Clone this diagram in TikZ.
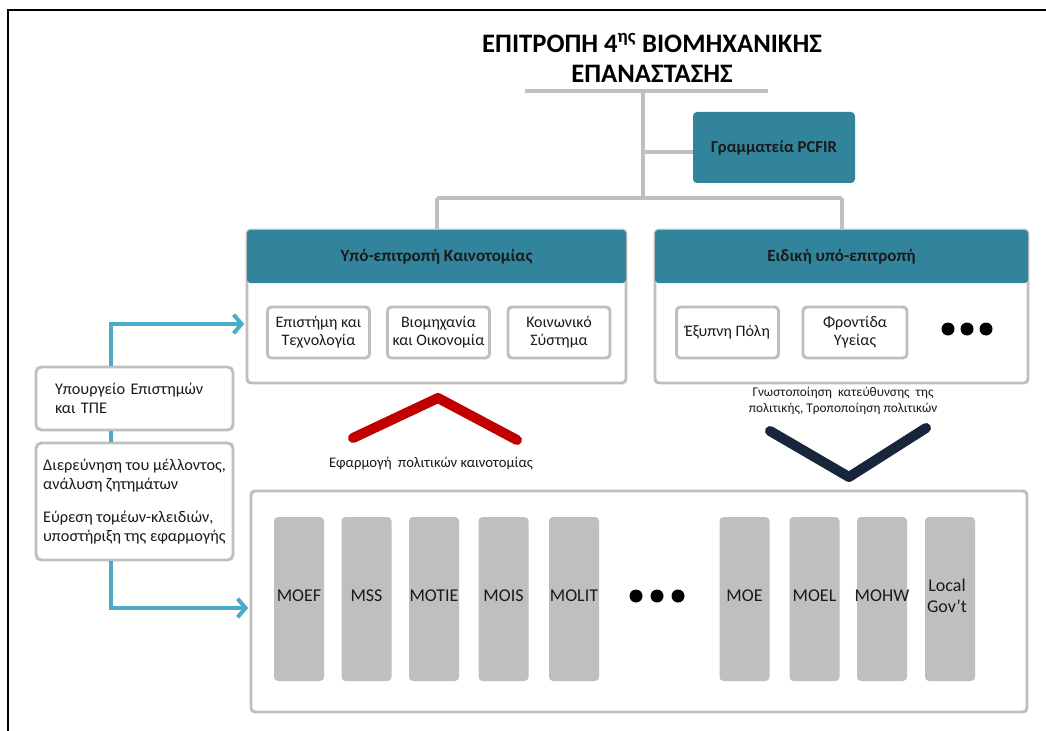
\documentclass[tikz,border=0pt]{standalone}
\usepackage{fontspec}
\setmainfont{Carlito}
\usetikzlibrary{arrows.meta}
\definecolor{tealh}{HTML}{31849B}
\definecolor{lgray}{HTML}{BFBFBF}
\definecolor{bline}{HTML}{4BACC6}
\definecolor{redc}{HTML}{C00000}
\definecolor{navyc}{HTML}{17263A}
\definecolor{txt}{HTML}{1A1A1A}
\begin{document}
\begin{tikzpicture}[x=0.75pt,y=-0.75pt,
  conn/.style={lgray,line width=3pt},
  panel/.style={draw=lgray,line width=2.2pt,fill=white,rounded corners=3pt,inner sep=0pt},
  header/.style={fill=tealh,rounded corners=2.5pt,text=txt,font=\bfseries\fontsize{12.8}{15}\selectfont,inner sep=0pt},
  ibox/.style={draw=lgray,line width=2.2pt,fill=white,rounded corners=3pt,minimum height=51*0.75pt,minimum width=102*0.75pt,align=center,text=txt,font=\fontsize{12}{13.5}\selectfont,inner sep=0pt},
  bar/.style={fill=lgray,rounded corners=3pt,minimum width=50*0.75pt,minimum height=164*0.75pt,inner sep=0pt},
  barlab/.style={text=txt,font=\fontsize{13.5}{16}\selectfont,inner sep=0pt,align=center},
  barrow/.style={bline,line width=3.6pt,-{Straight Barb[length=6pt,width=14pt,line width=3pt]}},
  sidebox/.style={draw=lgray,line width=2.2pt,fill=white,rounded corners=4pt,minimum width=197*0.75pt,align=left,text=txt,font=\fontsize{12.2}{14.2}\selectfont},
  dot/.style={circle,fill=black,inner sep=0pt,minimum size=13*0.75pt},
  chev/.style={line width=7.5pt,line cap=round,line join=round}
]
\useasboundingbox (0,0) rectangle (1046,731);
\fill[white] (0,0) rectangle (1046,731);
% frame
\draw[black,line width=0.9pt] (8,731) -- (8,10) -- (1046,10);

% title
\node[font=\bfseries\fontsize{20}{22.5}\selectfont,align=center,text=black] (title) at (652,58)
  {ΕΠΙΤΡΟΠΗ 4\textsuperscript{ης} ΒΙΟΜΗΧΑΝΙΚΗΣ\\ΕΠΑΝΑΣΤΑΣΗΣ};

% PCFIR
\node[fill=tealh,rounded corners=3pt,minimum width=162*0.75pt,minimum height=71*0.75pt,
  font=\bfseries\fontsize{12.5}{14}\selectfont,text=txt,inner sep=0pt] (pcfir) at (774,147.5) {Γραμματεία PCFIR};

% panels
\node[panel,minimum width=379*0.75pt,minimum height=153*0.75pt] (lp) at (436.5,306.5) {};
\node[header,minimum width=379*0.75pt,minimum height=53*0.75pt] (lph) at (436.5,256.5) {Υπό-επιτροπή Καινοτομίας};
\node[panel,minimum width=373*0.75pt,minimum height=153*0.75pt] (rp) at (841.5,306.5) {};
\node[header,minimum width=373*0.75pt,minimum height=53*0.75pt] (rph) at (841.5,256.5) {Ειδική υπό-επιτροπή};

\node[ibox] (l1) at (318.5,332.5) {Επιστήμη και\\Τεχνολογία};
\node[ibox] (l2) at (438.5,332.5) {Βιομηχανία\\και Οικονομία};
\node[ibox] (l3) at (559,332.5) {Κοινωνικό\\Σύστημα};
\node[ibox] (r1) at (727.5,332.5) {Έξυπνη Πόλη};
\node[ibox,minimum width=104*0.75pt] (r2) at (855,332.5) {Φροντίδα\\Υγείας};
\node[dot] (rd1) at (948,329) {};
\node[dot] (rd2) at (967,329) {};
\node[dot] (rd3) at (986,329) {};

% connectors from title
\coordinate (tl) at (525,91);
\coordinate (tr) at (768,91);
\coordinate (tm) at (643,91);
\coordinate (hm) at (643,198);
\coordinate (hl) at (436.5,198);
\coordinate (hr) at (841.5,198);
\coordinate (pb) at (643,152);
\draw[conn] (tl) -- (tr);
\draw[conn] (tm) -- (hm);
\draw[conn] (pb) -- (pb -| pcfir.west);
\draw[conn] (hl) -- (hr);
\draw[conn] (hl) -- (lph.north);
\draw[conn] (hr) -- (rph.north);

% bottom panel
\node[panel,minimum width=776*0.75pt,minimum height=221*0.75pt] (bot) at (639,601.5) {};
\foreach \nm/\xx/\lab in {b1/299/MOEF,b2/366.5/MSS,b3/434/MOTIE,b4/503.5/MOIS,b5/574/MOLIT,b6/744.5/MOE,b7/814.5/MOEL,b8/882/MOHW}{
  \node[bar] (\nm) at (\xx,599) {};
  \node[barlab] (\nm t) at (\xx,596) {\lab};
}
\node[bar] (b9) at (950,599) {};
\node[barlab] (b9t) at (947,596) {Local\\Gov’t};
\node[dot] (bd1) at (636,596) {};
\node[dot] (bd2) at (657,596) {};
\node[dot] (bd3) at (678,596) {};

% side boxes
\node[sidebox,minimum height=63*0.75pt,inner xsep=19*0.75pt,text width=159*0.75pt] (sa) at (134.5,398.5)
  {Υπουργείο Επιστημών\\και ΤΠΕ};
\node[sidebox,minimum height=117*0.75pt,inner xsep=4*0.75pt] (sb) at (134.5,501.5)
  {Διερεύνηση του μέλλοντος,\\ανάλυση ζητημάτων\\[0.85em]Εύρεση τομέων-κλειδιών,\\υποστήριξη της εφαρμογής};

\coordinate (ax) at (111,0);
\coordinate (ay1) at (0,324);
\coordinate (ay2) at (0,608);
\draw[bline,line width=3.6pt] (sa.south -| ax) -- (sb.north -| ax);
\draw[barrow] (sa.north -| ax) |- ([xshift=-1pt]lp.west |- ay1);
\draw[barrow] (sb.south -| ax) |- ([xshift=-1pt]bot.west |- ay2);

% chevrons
\coordinate (ra) at (353,438);
\coordinate (rb) at (438,398);
\coordinate (rc) at (517,440);
\draw[chev,redc] (ra) -- (rb) -- (rc);
\node[font=\fontsize{11}{13}\selectfont,text=txt] (rlab) at (431,464) {Εφαρμογή\ \ πολιτικών καινοτομίας};

\coordinate (na) at (770,431);
\coordinate (nb) at (849,477);
\coordinate (nc) at (926,428);
\draw[chev,navyc] (na) -- (nb) -- (nc);
\node[font=\fontsize{10}{12.5}\selectfont,text=txt,align=center] (nlab) at (843,401)
  {Γνωστοποίηση\ \ κατεύθυνσης\ \ της\\πολιτικής, Τροποποίηση πολιτικών};
\end{tikzpicture}
\end{document}
